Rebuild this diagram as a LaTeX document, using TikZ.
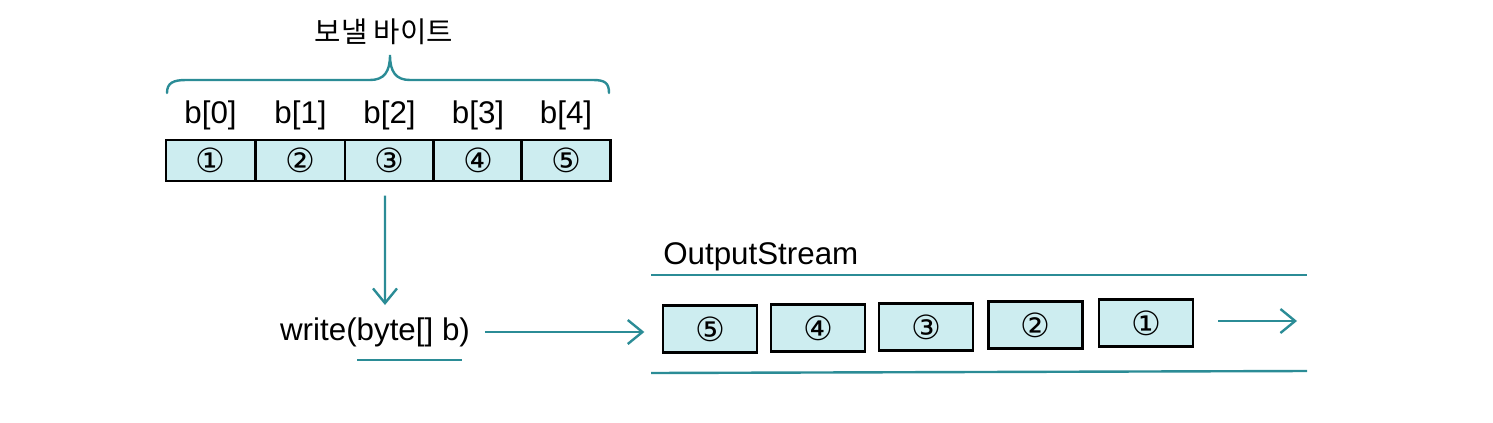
\documentclass[tikz,border=0pt]{standalone}
\usepackage{fontspec}
\setmainfont{Liberation Sans}
\newfontfamily\krfont{Noto Sans CJK KR}
\newfontfamily\circfont{DejaVu Sans}
\usetikzlibrary{arrows.meta}
\definecolor{teal1}{HTML}{2B8C96}
\definecolor{cellfill}{HTML}{CDEDF0}
\begin{document}
\begin{tikzpicture}[x=0.75pt,y=-0.75pt,
  tline/.style={draw=teal1,line width=1.8pt},
  arr/.style={tline,-{Straight Barb[length=11pt,width=18pt,line width=1.8pt]}},
  cell/.style={draw=black,line width=2pt,fill=cellfill,minimum width=66.75pt,minimum height=30.75pt,inner sep=0pt,font=\circfont\fontsize{25}{25}\selectfont},
  sbox/.style={draw=black,line width=2pt,fill=cellfill,minimum width=70.5pt,minimum height=35pt,inner sep=0pt,font=\circfont\fontsize{25}{25}\selectfont},
  lab/.style={font=\fontsize{23.5}{26}\selectfont,inner sep=0pt}]
\useasboundingbox (0,0) rectangle (1493,422);
% array cells
\node[cell] (c1) at (210.5,160.5) {①};
\node[cell] (c2) at (300.5,160.5) {②};
\node[cell] (c3) at (389.5,160.5) {③};
\node[cell] (c4) at (478,160.5) {④};
\node[cell] (c5) at (566,160.5) {⑤};
\foreach \i/\t in {1/b[0],2/b[1],3/b[2],4/b[3],5/b[4]}
  \node[lab] (l\i) at (c\i.center |- 0,115) {\t};
% brace
\draw[tline,line cap=round] (167,93) .. controls (167,83) and (173,80) .. (186,80) -- (370,80)
  .. controls (384,80) and (390,72) .. (390,55)
  .. controls (390,72) and (396,80) .. (410,80) -- (593,80)
  .. controls (605,80) and (609,83) .. (609,93);
\node[font=\krfont\fontsize{21.5}{23}\selectfont,inner sep=0pt] (title) at (384,32) {보낼 바이트};
% write
\node[lab] (write) at (375,332) {write(byte[] b)};
\coordinate (wtop) at (385,305);
\draw[arr] ([xshift=-3.4pt,yshift=-10pt]c3.south) -- (wtop);
\coordinate (ul1) at (357,360);
\coordinate (ul2) at (462,360);
\draw[tline] (ul1) -- (ul2);
% stream
\node[lab,anchor=west] (os) at (663,257) {OutputStream};
\coordinate (t1) at (651,275); \coordinate (t2) at (1307,275);
\coordinate (b1) at (651,373); \coordinate (b2) at (1307,371);
\draw[tline] (t1) -- (t2);
\draw[tline] (b1) -- (b2);
\node[sbox] (s5) at (710,329) {⑤};
\node[sbox] (s4) at (818,328) {④};
\node[sbox] (s3) at (926,327) {③};
\node[sbox] (s2) at (1035.5,325) {②};
\node[sbox] (s1) at (1146,323) {①};
\draw[arr,shorten <=11pt,shorten >=13pt] (write.east) -- (write.east -| s5.west);
\coordinate (outend) at (1297,321);
\draw[arr,shorten <=18pt] (s1.east |- outend) -- (outend);
\end{tikzpicture}
\end{document}
